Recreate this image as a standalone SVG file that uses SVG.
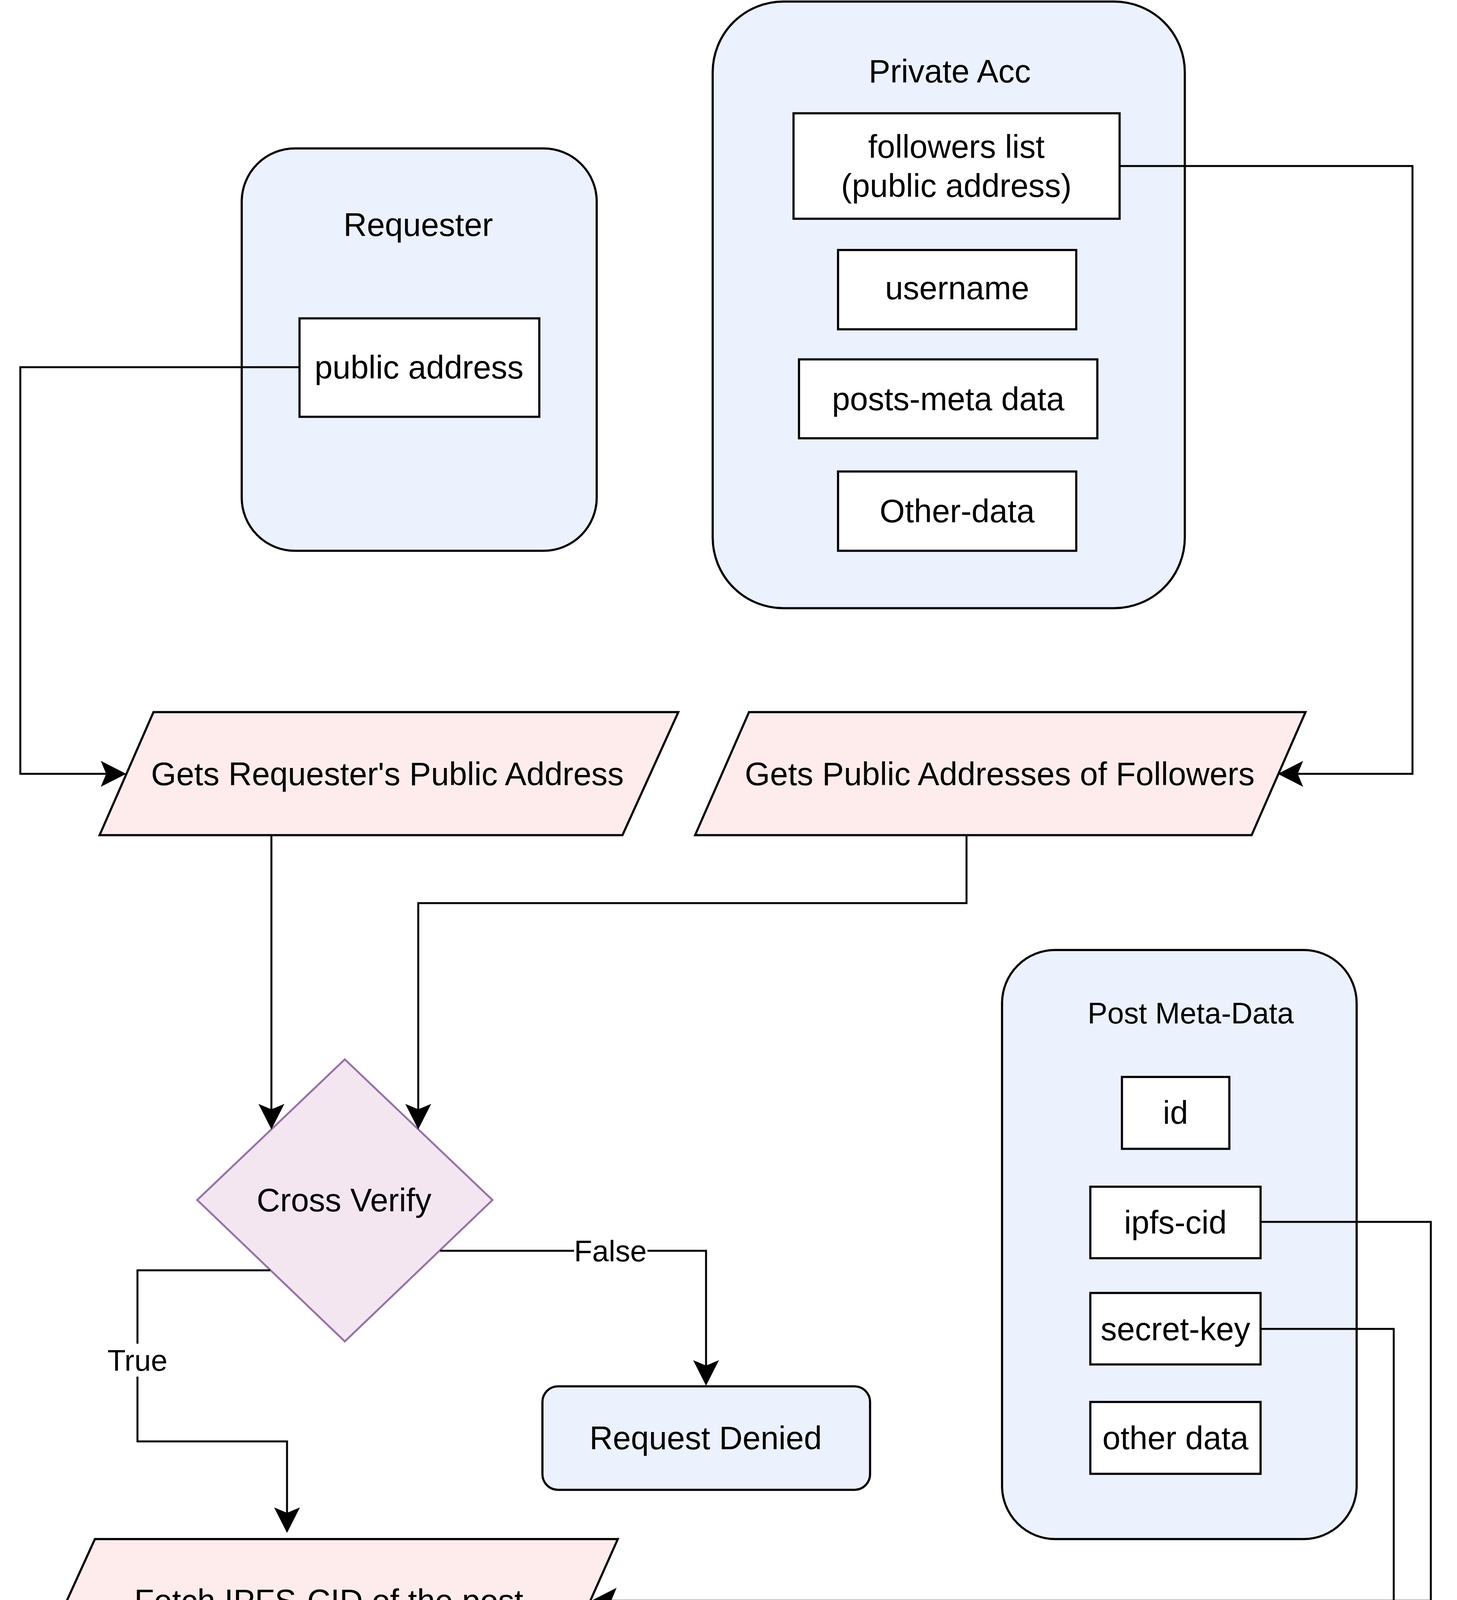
<svg xmlns="http://www.w3.org/2000/svg" width="3731" height="5957" viewBox="0 0 3731 5957">
<style>
text{font-family:"Liberation Sans",Arial,Helvetica,sans-serif;fill:#000;text-anchor:middle;dominant-baseline:central}
.t{font-size:83px}
.s{font-size:76px}
.cont{fill:#ebf1fd;stroke:#000;stroke-width:5.5}
.box{fill:#fff;stroke:#000;stroke-width:5.5}
.par{fill:#feecec;stroke:#000;stroke-width:5.5}
.grn{fill:#e7fce7;stroke:#000;stroke-width:5.5}
.dia{fill:#f3e6f1;stroke:#9673a6;stroke-width:5}
.ln{fill:none;stroke:#000;stroke-width:5;marker-end:url(#arr)}
.lbl{fill:#fff}
</style>
<defs>
<marker id="arr" markerUnits="userSpaceOnUse" viewBox="0 -32 62 64" markerWidth="62" markerHeight="64" refX="13" refY="0" orient="auto" overflow="visible">
<path d="M0,-31 L61,0 L0,31 L13,0 Z" fill="#000" stroke="#000" stroke-width="2"/>
</marker>
</defs>
<rect width="3731" height="5957" fill="#fff"/>

<g id="requester">
<rect class="cont" x="619" y="380" width="909" height="1030" rx="136" ry="136"/>
<text class="t" x="1071" y="575">Requester</text>
</g>
<g id="req-public-address">
<rect class="box" x="767" y="815" width="614" height="252"/>
<text class="t" x="1073" y="940">public address</text>
</g>

<g id="private-acc">
<rect class="cont" x="1825" y="4" width="1209" height="1553" rx="181" ry="181"/>
<text class="t" x="2432" y="182">Private Acc</text>
</g>
<g id="followers-list">
<rect class="box" x="2032" y="290" width="835" height="270"/>
<text class="t" x="2449" y="375">followers list</text>
<text class="t" x="2449" y="475">(public address)</text>
</g>
<g id="username">
<rect class="box" x="2146" y="640" width="610" height="203"/>
<text class="t" x="2451" y="737">username</text>
</g>
<g id="posts-meta">
<rect class="box" x="2046" y="920" width="764" height="202"/>
<text class="t" x="2428" y="1021">posts-meta data</text>
</g>
<g id="other-data-acc">
<rect class="box" x="2146" y="1207" width="610" height="203"/>
<text class="t" x="2451" y="1308">Other-data</text>
</g>

<g id="gets-requester">
<polygon class="par" points="393,1823 1737,1823 1594,2138 255,2138"/>
<text class="t" x="992" y="1981">Gets Requester's Public Address</text>
</g>
<g id="gets-followers">
<polygon class="par" points="1918,1823 3343,1823 3205,2138 1780,2138"/>
<text class="t" x="2560" y="1981">Gets Public Addresses of Followers</text>
</g>

<g id="cross-verify">
<polygon class="dia" points="883,2712 1261,3072 883,3434 505,3072"/>
<text class="t" x="881" y="3072">Cross Verify</text>
</g>

<g id="request-denied">
<rect class="cont" x="1389" y="3549" width="839" height="265" rx="40" ry="40"/>
<text class="t" x="1807" y="3681">Request Denied</text>
</g>

<g id="post-meta-data">
<rect class="cont" x="2566" y="2432" width="908" height="1508" rx="136" ry="136"/>
<text class="s" x="3049" y="2593">Post Meta-Data</text>
</g>
<g id="pm-id">
<rect class="box" x="2873" y="2757" width="275" height="184"/>
<text class="t" x="3010" y="2848">id</text>
</g>
<g id="pm-ipfs-cid">
<rect class="box" x="2792" y="3038" width="436" height="183"/>
<text class="t" x="3010" y="3129">ipfs-cid</text>
</g>
<g id="pm-secret-key">
<rect class="box" x="2792" y="3310" width="436" height="183"/>
<text class="t" x="3010" y="3402">secret-key</text>
</g>
<g id="pm-other-data">
<rect class="box" x="2792" y="3589" width="436" height="184"/>
<text class="t" x="3010" y="3681">other data</text>
</g>

<g id="fetch-ipfs">
<polygon class="par" points="243,3940 1582,3940 1442,4254 100,4254"/>
<text class="t" x="842" y="4098">Fetch IPFS-CID of the post</text>
</g>
<g id="download">
<rect class="grn" x="303" y="4556" width="1078" height="288"/>
<text class="t" x="842" y="4700">Download Encrypted File</text>
</g>
<g id="run-decryption">
<rect class="grn" x="303" y="5085" width="1078" height="288"/>
<text class="t" x="842" y="5229">Run Decryption</text>
</g>
<g id="content-shown">
<rect class="cont" x="421" y="5679" width="839" height="268" rx="40" ry="40"/>
<text class="t" x="841" y="5813">Content Shown</text>
</g>

<g id="connectors">
<path class="ln" d="M767,940 H52 V1981 H273"/>
<path class="ln" d="M2867,425 H3617 V1981 H3322"/>
<path class="ln" d="M695,2138 V2841"/>
<path class="ln" d="M2475,2138 V2312 H1071 V2841"/>
<path class="ln" d="M1127,3202 H1808 V3497"/>
<path class="ln" d="M692,3252 H352 V3690 H735 V3874"/>
<path class="ln" d="M3228,3128 H3664 V4098 H1564"/>
<path class="ln" d="M3228,3402 H3569 V5227 H1433"/>
<path class="ln" d="M842,4254 V4506"/>
<path class="ln" d="M842,4844 V5035"/>
<path class="ln" d="M842,5373 V5629"/>
<rect class="lbl" x="1470" y="3160" width="188" height="84"/>
<text class="s" x="1563" y="3202">False</text>
<rect class="lbl" x="272" y="3440" width="160" height="84"/>
<text class="s" x="352" y="3482">True</text>
<rect class="lbl" x="2226" y="5185" width="674" height="84"/>
<text class="s" x="2563" y="5222">Secret Key Fetched</text>
</g>
</svg>
